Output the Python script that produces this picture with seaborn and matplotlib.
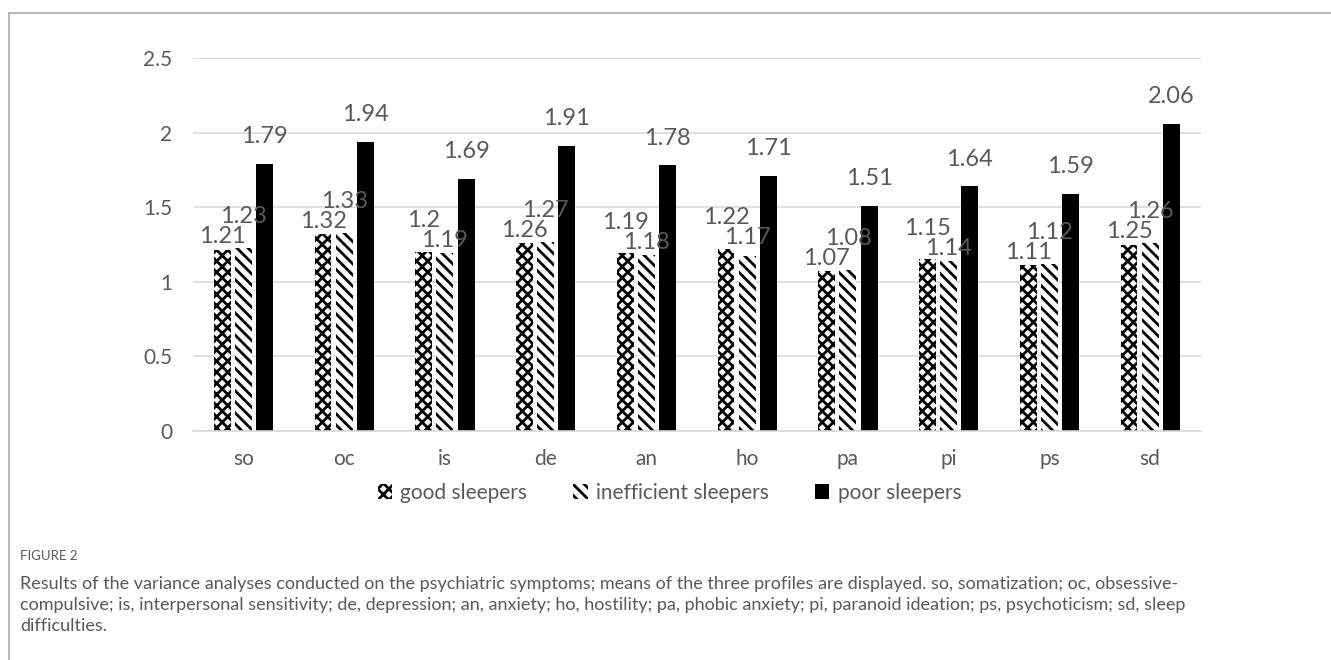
import numpy as np
import pandas as pd
import matplotlib
matplotlib.use("Agg")
import matplotlib.pyplot as plt
from matplotlib.lines import Line2D
import seaborn as sns

categories = ["so", "oc", "is", "de", "an", "ho", "pa", "pi", "ps", "sd"]
groups = ["good sleepers", "inefficient sleepers", "poor sleepers"]
good = [1.21, 1.32, 1.2, 1.26, 1.19, 1.22, 1.07, 1.15, 1.11, 1.25]
inefficient = [1.23, 1.33, 1.19, 1.27, 1.18, 1.17, 1.08, 1.14, 1.12, 1.26]
poor = [1.79, 1.94, 1.69, 1.91, 1.78, 1.71, 1.51, 1.64, 1.59, 2.06]

caption_title = "FIGURE 2"
caption_text = ("Results of the variance analyses conducted on the psychiatric symptoms; means of the three "
                "profiles are displayed. so, somatization; oc, obsessive-\n"
                "compulsive; is, interpersonal sensitivity; de, depression; an, anxiety; ho, hostility; "
                "pa, phobic anxiety; pi, paranoid ideation; ps, psychoticism; sd, sleep\n"
                "difficulties.")

df = pd.DataFrame({
    "symptom": categories * 3,
    "profile": [groups[0]] * 10 + [groups[1]] * 10 + [groups[2]] * 10,
    "mean": good + inefficient + poor,
})

sns.set_theme(style="white")
plt.rcParams["font.family"] = ["Lato", "DejaVu Sans"]
plt.rcParams["hatch.linewidth"] = 2.0
plt.rcParams["hatch.color"] = "black"

txt = "#595959"
grid_c = "#d9d9d9"

fig = plt.figure(figsize=(13.31, 6.6), dpi=100)
ax = fig.add_axes([0.145, 0.347, 0.757, 0.565])

sns.barplot(data=df, x="symptom", y="mean", hue="profile", order=categories,
            hue_order=groups, palette=["white", "white", "black"], width=0.63,
            gap=0.2, edgecolor="black", linewidth=0, legend=False, ax=ax)

hatches = ["xxx", "\\\\\\", None]
for cont, h in zip(ax.containers, hatches):
    for p in cont:
        if h:
            p.set_hatch(h)
            p.set_edgecolor("black")

# labels like Excel: the two close labels get stacked, higher value on top
good_bars, ineff_bars, poor_bars = ax.containers
lab = dict(fontsize=17, color=txt, ha="center", va="bottom", textcoords="offset points")
for i in range(len(categories)):
    gb, nb = good_bars[i], ineff_bars[i]
    top = max(gb.get_height(), nb.get_height())
    pairs = [(gb, good[i]), (nb, inefficient[i])]
    pairs.sort(key=lambda t: t[1])
    for k, (bar, v) in enumerate(pairs):
        ax.annotate(f"{v:g}", (bar.get_x() + bar.get_width() / 2, top),
                    xytext=(0, 0.5 + 14.5 * k), **lab)
for bar, v in zip(poor_bars, poor):
    ax.annotate(f"{v:g}", (bar.get_x() + bar.get_width() / 2, bar.get_height()),
                xytext=(0, 12), **lab)

ax.set_ylim(0, 2.5)
ax.set_xlim(-0.5, 9.5)
ax.set_yticks(np.arange(0, 2.51, 0.5))
ax.set_yticklabels(["0", "0.5", "1", "1.5", "2", "2.5"])
ax.yaxis.grid(True, color=grid_c, linewidth=1.2)
ax.set_axisbelow(True)
for s in ["top", "right", "left"]:
    ax.spines[s].set_visible(False)
ax.spines["bottom"].set_color(grid_c)
ax.spines["bottom"].set_linewidth(1.2)
ax.tick_params(axis="both", length=0, labelsize=15, labelcolor=txt)
ax.tick_params(axis="y", pad=15)
ax.tick_params(axis="x", pad=13)
ax.set_xlabel("")
ax.set_ylabel("")

fig.legend([c.patches[0] for c in ax.containers], groups, loc="center",
           bbox_to_anchor=(0.503, 0.253), ncol=3, frameon=False, fontsize=15,
           labelcolor=txt, handlelength=0.7, handleheight=0.7,
           handletextpad=0.4, columnspacing=2.2)

# frame lines of the figure panel
fig.add_artist(Line2D([0.0068, 0.0068], [0.0, 0.981], color="#aaaaaa", linewidth=1.2))
fig.add_artist(Line2D([0.0068, 1.0], [0.981, 0.981], color="#aaaaaa", linewidth=1.2))

fig.text(0.015, 0.158, caption_title, fontsize=9.5, color=txt, va="center")
fig.text(0.015, 0.128, caption_text, fontsize=13, color=txt, va="top", linespacing=1.42)

fig.savefig("out.png", dpi=100)
